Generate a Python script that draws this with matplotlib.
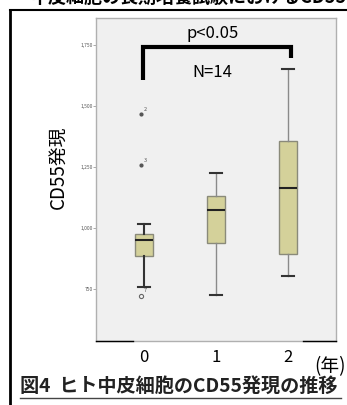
import matplotlib.pyplot as plt
from matplotlib.lines import Line2D

plt.rcParams['font.family'] = ['Noto Sans CJK JP', 'DejaVu Sans']

# Data
years = ["0", "1", "2"]
whis_lo = [758, 725, 803]
q1 = [885, 939, 893]
medians = [951, 1074, 1164]
q3 = [975, 1131, 1357]
whis_hi = [1016, 1225, 1652]
outlier_vals = [[1467, 1258, 722], [], []]
outlier_ids = [["2", "3", "7"], [], []]
ytick_vals = [750, 1000, 1250, 1500, 1750]
ytick_labels = ["750", "1,000", "1,250", "1,500", "1,750"]

W, H = 347, 405
fig = plt.figure(figsize=(W / 100, H / 100), dpi=100)

def fx(px):
    return px / W

def fy(py):
    return 1 - py / H

ax = fig.add_axes([fx(96), fy(341), fx(336) - fx(96), fy(18) - fy(341)])
ax.set_facecolor("#f0f0f0")

stats = []
for i in range(len(years)):
    stats.append(dict(med=medians[i], q1=q1[i], q3=q3[i],
                      whislo=whis_lo[i], whishi=whis_hi[i], fliers=[]))

bp = ax.bxp(stats, positions=range(len(years)), widths=0.25, patch_artist=True,
            showfliers=False,
            boxprops=dict(facecolor="#d4d19a", edgecolor="#8a8a7a", linewidth=1),
            medianprops=dict(color="#222222", linewidth=1.5),
            whiskerprops=dict(color="#8a8a8a", linewidth=1),
            capprops=dict(color="#333333", linewidth=1.5),
            capwidths=0.17)
# first group whiskers are dark
for w in bp["whiskers"][:2]:
    w.set_color("#333333")
    w.set_linewidth(1.5)

# outliers
for i, vals in enumerate(outlier_vals):
    for v, lab in zip(vals, outlier_ids[i]):
        if lab == "7":
            ax.plot(i - 0.04, v, "o", ms=3, mfc="none", mec="#666666", mew=0.8)
        else:
            ax.plot(i - 0.04, v, "o", ms=2, color="#555555")
        ax.text(i, v + 10, lab, fontsize=4, color="#555555", ha="left", va="bottom")

ax.set_xlim(-0.667, 2.667)
ax.set_ylim(537, 1861)
ax.set_yticks(ytick_vals)
ax.set_yticklabels(ytick_labels, fontsize=3.5, color="#555555")
ax.tick_params(axis="y", length=2, width=0.5, color="#888888", pad=0.5)
ax.set_xticks(range(len(years)))
ax.set_xticklabels(years, fontsize=12)
ax.tick_params(axis="x", length=0, pad=6)
for s in ax.spines.values():
    s.set_color("#b0b0b0")
    s.set_linewidth(1)

# significance bracket
ax.plot([-0.01, -0.01, 2.04, 2.04], [1607, 1742, 1742, 1697], color="black", lw=3,
        solid_joinstyle="miter", solid_capstyle="butt")
ax.text(0.95, 1797, "p<0.05", ha="center", va="center", fontsize=12)
ax.text(0.95, 1637, "N=14", ha="center", va="center", fontsize=12)

fig.text(fx(58), fy(167), "CD55発現", rotation=90, fontsize=13.5,
         ha="center", va="center")

# slide frame lines
fig.add_artist(Line2D([fx(10), fx(10)], [fy(10), 0], color="black", lw=2))
fig.add_artist(Line2D([fx(10), 1], [fy(10), fy(10)], color="black", lw=1.5))
fig.add_artist(Line2D([fx(96), fx(133)], [fy(341), fy(341)], color="black", lw=1))
fig.add_artist(Line2D([fx(303), fx(336)], [fy(341), fy(341)], color="black", lw=1))

# cut-off title at the very top
fig.text(fx(30), fy(-3), "中皮細胞の長期培養試験におけるCD55の発現", fontsize=13,
         fontweight="bold", ha="left", va="center")

fig.text(fx(314), fy(367), "(年)", fontsize=13.5, ha="left", va="center")
fig.text(fx(20), fy(386), "図4  ヒト中皮細胞のCD55発現の推移", fontsize=13.8,
         fontweight="bold", ha="left", va="center", color="#222222")
fig.add_artist(Line2D([fx(20), fx(341)], [fy(398), fy(398)], color="#444444", lw=1))

fig.savefig("out.png", dpi=100)
